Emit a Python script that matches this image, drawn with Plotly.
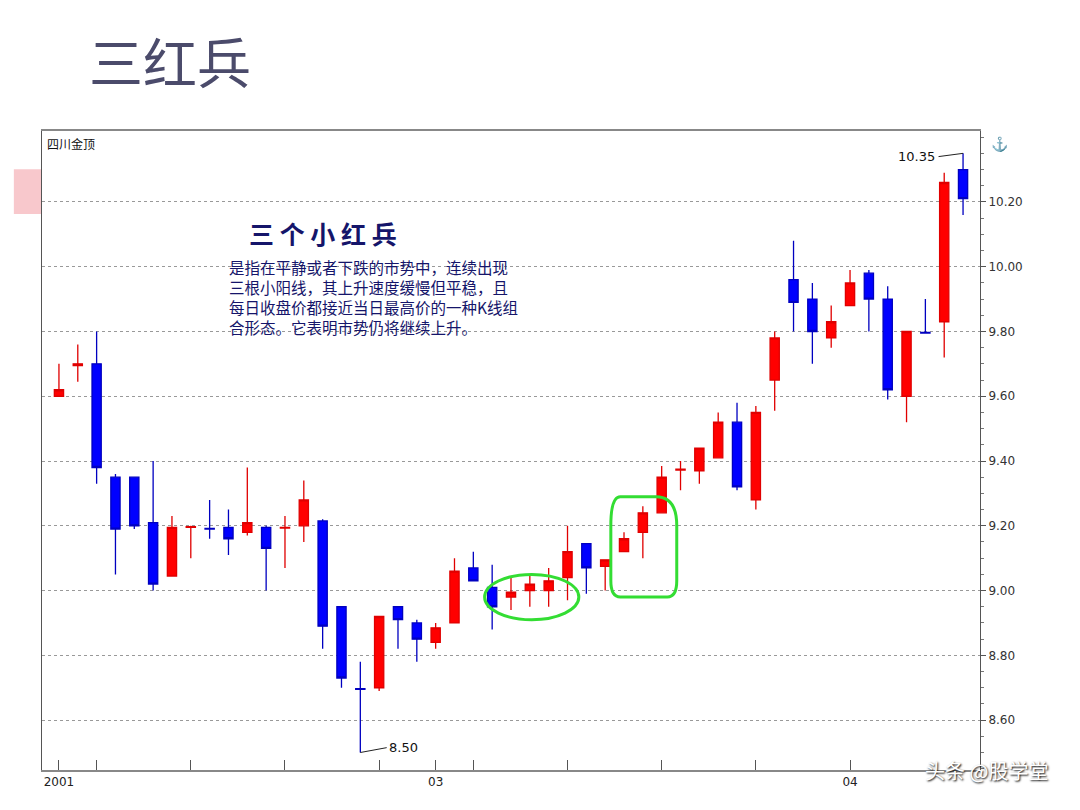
import plotly.graph_objects as go

opens  = [9.60,9.695,9.70,9.35,9.35,9.21,9.045,9.195,9.192,9.195,9.18,9.195,9.193,9.20,9.215,8.95,8.697,8.70,
          8.95,8.90,8.84,8.90,9.07,9.01,8.98,9.00,9.00,9.04,9.145,9.075,9.12,9.18,9.24,9.372,9.37,9.41,9.52,9.28,
          9.65,9.96,9.90,9.78,9.88,9.98,9.90,9.60,9.797,9.83,10.30]
closes = [9.62,9.70,9.38,9.19,9.20,9.02,9.195,9.197,9.19,9.16,9.21,9.13,9.195,9.28,8.89,8.73,8.695,8.92,
          8.91,8.85,8.885,9.06,9.03,8.95,8.995,9.02,9.03,9.12,9.07,9.095,9.16,9.24,9.35,9.375,9.44,9.52,9.32,9.55,
          9.78,9.89,9.80,9.83,9.95,9.90,9.62,9.80,9.795,10.26,10.21]
highs  = [9.70,9.76,9.80,9.36,9.35,9.40,9.23,9.20,9.28,9.25,9.38,9.20,9.23,9.34,9.22,8.95,8.78,8.92,
          8.95,8.91,8.90,9.10,9.12,9.08,9.04,9.05,9.07,9.20,9.145,9.095,9.18,9.26,9.385,9.40,9.44,9.55,9.58,9.57,
          9.80,10.08,9.95,9.88,9.99,9.99,9.94,9.80,9.90,10.29,10.35]
lows   = [9.60,9.645,9.33,9.05,9.19,9.00,9.045,9.10,9.16,9.11,9.17,9.00,9.07,9.15,8.82,8.70,8.50,8.69,
          8.82,8.78,8.82,8.90,9.03,8.88,8.94,8.95,8.95,8.97,8.99,9.00,9.12,9.10,9.24,9.31,9.33,9.41,9.31,9.25,
          9.555,9.80,9.70,9.75,9.88,9.80,9.59,9.52,9.795,9.72,10.16]
xs = list(range(len(opens)))
yticks = [8.60, 8.80, 9.00, 9.20, 9.40, 9.60, 9.80, 10.00, 10.20]
xtickvals = [0, 2, 7, 12, 17, 20, 22, 27, 32, 37, 42]
xticktext = ["2001", "", "", "", "", "03", "", "", "", "", "04"]
para_lines = ["是指在平静或者下跌的市势中，连续出现",
              "三根小阳线，其上升速度缓慢但平稳，且",
              "每日收盘价都接近当日最高价的一种K线组",
              "合形态。它表明市势仍将继续上升。"]

fig = go.Figure(go.Candlestick(
    x=xs, open=opens, high=highs, low=lows, close=closes,
    increasing=dict(line=dict(color="#e00000", width=1.3), fillcolor="#ff0000"),
    decreasing=dict(line=dict(color="#0000c0", width=1.3), fillcolor="#0000ff"),
    whiskerwidth=0, showlegend=False, hoverinfo="skip"))

fig.update_layout(
    width=1080, height=810, paper_bgcolor="white", plot_bgcolor="white",
    margin=dict(l=34, r=108, t=123, b=48, autoexpand=False),
    title=dict(text="三红兵", x=0.075, xref="container", y=0.93, yref="container",
               xanchor="left", yanchor="middle",
               font=dict(size=54, color="#4b4b6b", family="Noto Sans CJK SC")),
    xaxis=dict(range=[-0.9, 48.9], rangeslider=dict(visible=False), showgrid=False, zeroline=False,
               automargin=False,
               tickvals=xtickvals, ticktext=xticktext, ticks="inside", ticklen=10, tickcolor="#555",
               tickfont=dict(size=12, color="#222", family="DejaVu Sans"),
               showline=True, linecolor="#888", linewidth=2, mirror=True),
    yaxis=dict(range=[8.446, 10.419], side="right", tickvals=yticks, automargin=False,
               ticktext=[f"{v:.2f}" for v in yticks], ticks="outside", ticklen=5, tickcolor="#555",
               tickfont=dict(size=12, color="#333", family="DejaVu Sans"),
               showgrid=True, gridcolor="#999", griddash="dot", gridwidth=1, zeroline=False,
               showline=True, linecolor="#555", linewidth=1, mirror=True,
               minor=dict(dtick=0.05, ticks="outside", ticklen=3, tickcolor="#777", showgrid=False)),
    font=dict(family="Noto Sans CJK SC"),
)

# pink decoration
fig.add_shape(type="rect", xref="paper", yref="paper", x0=-0.03, x1=-0.001, y0=0.87, y1=0.94,
              fillcolor="#f8c8cc", line_width=0, layer="below")
fig.add_annotation(xref="paper", yref="paper", x=0.003, y=0.997, xanchor="left", yanchor="top",
                   text="四川金顶", showarrow=False, font=dict(size=12, color="#111"))
fig.add_annotation(xref="paper", yref="paper", x=1.01, y=1.0, xanchor="left", yanchor="top",
                   text="⚓", showarrow=False, font=dict(size=14, color="#cc0000"))
fig.add_annotation(x=14.0, y=10.105, xanchor="center", yanchor="middle", text="<b>三 个 小 红 兵</b>",
                   showarrow=False, font=dict(size=25, color="#15156a", family="Noto Sans CJK SC"))
for line, yv in zip(para_lines, [10.00, 9.938, 9.876, 9.814]):
    fig.add_annotation(x=8.9, y=yv, xanchor="left", yanchor="middle", text=line, align="left",
                       showarrow=False, font=dict(size=15.5, color="#15156a", family="Noto Sans CJK SC"))
# price labels with leader lines
fig.add_shape(type="path", path="M 48,10.35 L 46.7,10.34", line=dict(color="#222", width=1))
fig.add_annotation(x=46.6, y=10.34, xanchor="right", yanchor="middle", text="10.35", showarrow=False,
                   font=dict(size=13, color="#111", family="DejaVu Sans"))
fig.add_shape(type="path", path="M 16,8.50 L 17.4,8.515", line=dict(color="#222", width=1))
fig.add_annotation(x=17.4, y=8.515, xanchor="left", yanchor="middle", text="8.50", showarrow=False,
                   font=dict(size=13, color="#111", family="DejaVu Sans"))
# green highlights
fig.add_shape(type="circle", x0=22.6, x1=27.6, y0=8.91, y1=9.05, line=dict(color="#33dd33", width=3))
fig.add_shape(type="path",
              path="M 29.3,9.20 Q 29.3,9.29 29.8,9.29 L 31.7,9.29 Q 32.8,9.29 32.8,9.20 L 32.8,9.03 "
                   "Q 32.8,8.98 32.3,8.98 L 29.8,8.98 Q 29.3,8.98 29.3,9.03 Z",
              line=dict(color="#33dd33", width=3))
# watermark
fig.add_annotation(xref="paper", yref="paper", x=1.075, y=-0.0, xanchor="right", yanchor="middle",
                   text="头条 @股学堂", showarrow=False,
                   font=dict(size=20, color="white", family="Noto Sans CJK SC", shadow="1px 1px 2px #000"))

fig.write_html("out.html")
